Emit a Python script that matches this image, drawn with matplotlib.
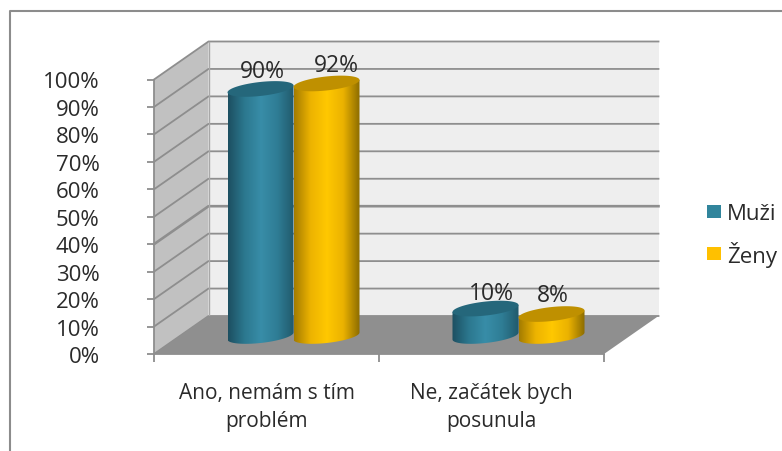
import numpy as np
import matplotlib
matplotlib.use("Agg")
import matplotlib.pyplot as plt
from matplotlib.colors import LinearSegmentedColormap
from matplotlib.lines import Line2D
from matplotlib.patches import Patch, PathPatch, Polygon
from matplotlib.path import Path

plt.rcParams['font.family'] = ['Open Sans', 'DejaVu Sans']

# Data
categories = ["Ano, nemám s tím\nproblém", "Ne, začátek bych\nposunula"]
series_names = ["Muži", "Ženy"]
muzi = [90, 10]
zeny = [92, 8]
y_ticks = [0, 10, 20, 30, 40, 50, 60, 70, 80, 90, 100]

# Colours
teal_grad = ["#1c4f61", "#2c788f", "#388da8", "#2f7d95", "#215a6c"]
gold_grad = ["#a47c00", "#edb300", "#ffc800", "#ebb200", "#8c6c00"]
teal_top = "#25677b"
gold_top = "#bf9000"
teal_legend = "#31859c"
gold_legend = "#ffc000"
line_grey = "#8e8e8e"
text_col = "#2a2a2a"

W, H = 782, 452
# front plane of the 3D box, in pixels
PX_LEFT, PX_RIGHT, PX_BOTTOM, PX_TOP = 154, 604, 355, 80.5

fig = plt.figure(figsize=(W / 100, H / 100), dpi=100)
ax = fig.add_axes([PX_LEFT / W, (H - PX_BOTTOM) / H,
                   (PX_RIGHT - PX_LEFT) / W, (PX_BOTTOM - PX_TOP) / H])
ax.patch.set_visible(False)
ax.set_xlim(0, 2)
ax.set_ylim(0, 100)

x_per_px = 2 / (PX_RIGHT - PX_LEFT)
y_per_px = 100 / (PX_BOTTOM - PX_TOP)
depth_x = 54.5 * x_per_px
depth_y = 38 * y_per_px

# walls and floor
ax.add_patch(Polygon([(depth_x, depth_y), (2 + depth_x, depth_y),
                      (2 + depth_x, 100 + depth_y), (depth_x, 100 + depth_y)],
                     fc="#eeeeee", ec="none", clip_on=False, zorder=1))
ax.add_patch(Polygon([(0, 0), (depth_x, depth_y), (depth_x, 100 + depth_y), (0, 100)],
                     fc="#c1c1c1", ec="none", clip_on=False, zorder=1))
ax.add_patch(Polygon([(0, 0), (2, 0), (2 + depth_x, depth_y), (depth_x, depth_y)],
                     fc="#8f8f8f", ec="none", clip_on=False, zorder=2))

# gridlines on side and back wall, the 40% one is heavier in the original
for v in y_ticks:
    ax.plot([0, depth_x, 2 + depth_x], [v, v + depth_y, v + depth_y],
            color=line_grey, lw=1.9 if v == 40 else 1.3,
            clip_on=False, zorder=1.5)
ax.plot([depth_x, depth_x], [depth_y, 100 + depth_y], color="#a8a8a8", lw=1,
        clip_on=False, zorder=1.5)


def cylinder(x_mid, value, width, grad, top_col, z):
    a = width / 2
    cx = x_mid + 27 * x_per_px
    base = 18 * y_per_px
    b = 7 * y_per_px
    s = 3.5 * y_per_px
    t = np.linspace(np.pi, 2 * np.pi, 60)
    lower_x = cx + a * np.cos(t)
    lower_y = base + b * np.sin(t) + s * np.cos(t)
    top = base + value
    body = np.vstack([[(cx - a, top - s)], np.column_stack([lower_x, lower_y]),
                      [(cx + a, top + s)], [(cx - a, top - s)]])
    clip = PathPatch(Path(body), transform=ax.transData, fc="none", ec="none")
    ax.add_patch(clip)
    cmap = LinearSegmentedColormap.from_list("c", grad)
    im = ax.imshow(np.linspace(0, 1, 128).reshape(1, -1), cmap=cmap, aspect="auto",
                   extent=(cx - a, cx + a, 0, top + 10), zorder=z, clip_on=True)
    im.set_clip_path(clip)
    t = np.linspace(0, 2 * np.pi, 100)
    ax.add_patch(Polygon(np.column_stack([cx + a * np.cos(t),
                                          top + b * np.sin(t) + s * np.cos(t)]),
                         fc=top_col, ec="none", clip_on=False, zorder=z + 0.1))
    return cx, top


bar_width = 66 * x_per_px
label_shift = [[2, 10], [6, 1]]
label_rise = [[18, 18], [16, 19]]
for i in range(len(categories)):
    for j, (vals, grad, top_col) in enumerate([(muzi, teal_grad, teal_top),
                                               (zeny, gold_grad, gold_top)]):
        x_mid = i + 0.5 + (j - 0.5) * bar_width
        cx, top = cylinder(x_mid, vals[i], bar_width, grad, top_col, 3 + j)
        ax.text(cx + label_shift[i][j] * x_per_px, top + label_rise[i][j] * y_per_px,
                f"{vals[i]}%", ha="center", va="center", fontsize=16.5, color=text_col,
                clip_on=False, zorder=6)

ax.set_xlim(0, 2)
ax.set_ylim(0, 100)

# axes
for side in ["top", "right"]:
    ax.spines[side].set_visible(False)
for side in ["left", "bottom"]:
    ax.spines[side].set_color(line_grey)
    ax.spines[side].set_linewidth(1.3)
    ax.spines[side].set_zorder(2.5)
ax.set_yticks(y_ticks)
ax.set_yticklabels([f"{v}%" for v in y_ticks])
ax.tick_params(axis="y", length=5, width=1.3, color=line_grey, pad=34,
               labelsize=16, labelcolor=text_col)
ax.set_xticks([0, 1, 2])
ax.set_xticklabels([])
ax.tick_params(axis="x", length=6, width=1.3, color=line_grey)
ax.set_xticks([0.5, 1.5], minor=True)
ax.set_xticklabels(categories, minor=True, linespacing=1.45)
ax.tick_params(axis="x", which="minor", length=0, pad=20, labelsize=15, labelcolor=text_col)

# legend
ax.legend(handles=[Patch(fc=teal_legend, ec="none", label=series_names[0]),
                   Patch(fc=gold_legend, ec="none", label=series_names[1])],
          loc="center left", bbox_to_anchor=(707 / W, (H - 236) / H),
          bbox_transform=fig.transFigure, frameon=False, fontsize=16,
          handlelength=0.64, handleheight=0.55, handletextpad=0.27,
          labelspacing=0.72, borderpad=0, borderaxespad=0, labelcolor=text_col)

# chart frame, its right and bottom side are cut off by the image
fig.add_artist(Line2D([10 / W, 10 / W, 1], [0, (H - 12) / H, (H - 12) / H],
                      color="#8c8c8c", lw=1.5))

fig.savefig("out.png", dpi=100)
